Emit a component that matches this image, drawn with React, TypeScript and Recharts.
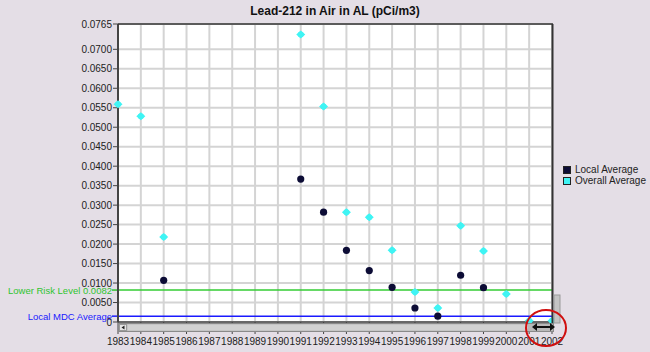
import React from "react";
import {
  CartesianGrid,
  ReferenceLine,
  Scatter,
  ScatterChart,
  XAxis,
  YAxis,
} from "recharts";

const years = [
  1983, 1984, 1985, 1986, 1987, 1988, 1989, 1990, 1991, 1992, 1993, 1994,
  1995, 1996, 1997, 1998, 1999, 2000, 2001, 2002,
];

const localYears = [1985, 1991, 1992, 1993, 1994, 1995, 1996, 1997, 1998, 1999];
const localValues = [
  0.0107, 0.0367, 0.0282, 0.0184, 0.0132, 0.0089, 0.0036, 0.0015, 0.012, 0.0088,
];

const overallYears = [
  1983, 1984, 1985, 1991, 1992, 1993, 1994, 1995, 1996, 1997, 1998, 1999, 2000,
  2001, 2002,
];
const overallValues = [
  0.0559, 0.0528, 0.0218, 0.0738, 0.0553, 0.0282, 0.0269, 0.0184, 0.0077,
  0.0036, 0.0247, 0.0182, 0.0072, 0.0003, 0.0003,
];

const yTicks = [
  0, 0.005, 0.01, 0.015, 0.02, 0.025, 0.03, 0.035, 0.04, 0.045, 0.05, 0.055,
  0.06, 0.065, 0.07, 0.0765,
];

const lowerRiskLevel = 0.0082;
const localMdcAverage = 0.0015;

const FONT = "'Liberation Sans', Arial, sans-serif";
const NAVY = "#0c0c35";
const CYAN = "#3ff4f4";

const localData = localYears.map((year, i) => ({ year, value: localValues[i] }));
const overallData = overallYears.map((year, i) => ({
  year,
  value: overallValues[i],
}));

const legendItems = [
  { name: "Local Average", color: NAVY },
  { name: "Overall Average", color: CYAN },
];

const NavyDot = (props: any) => {
  const { cx, cy } = props;
  if (cx == null || cy == null) return null;
  return <circle cx={cx} cy={cy} r={3.6} fill={NAVY} />;
};

const CyanDot = (props: any) => {
  const { cx, cy } = props;
  if (cx == null || cy == null) return null;
  return (
    <g fill={CYAN}>
      <circle cx={cx} cy={cy} r={3} />
      <path d={`M${cx - 4.5},${cy} L${cx},${cy - 4} L${cx + 4.5},${cy} L${cx},${cy + 4} Z`} />
    </g>
  );
};

// reference-line label drawn left of the y axis, with a short tick
const refLabel = (text: string, color: string) => (props: any) => {
  const { viewBox } = props;
  if (!viewBox) return null;
  const { x, y } = viewBox;
  return (
    <g>
      <line x1={x - 6} x2={x} y1={y} y2={y} stroke={color} strokeWidth={1.5} />
      <text
        x={x - 6}
        y={y}
        dy={3.5}
        textAnchor="end"
        fill={color}
        fontSize={9.5}
        fontFamily={FONT}
      >
        {text}
      </text>
    </g>
  );
};

export default function App() {
  return (
    <div
      style={{
        position: "absolute",
        left: 0,
        top: 0,
        width: 650,
        height: 352,
        background: "#e4dee6",
        fontFamily: FONT,
      }}
    >
      <div
        style={{
          position: "absolute",
          top: 4,
          left: 0,
          width: 670,
          textAlign: "center",
          fontWeight: "bold",
          fontSize: 12,
          color: "#111",
        }}
      >
        Lead-212 in Air in AL (pCi/m3)
      </div>
      <ScatterChart
        width={650}
        height={352}
        margin={{ top: 24, right: 98, bottom: 0, left: 0 }}
      >
        <CartesianGrid fill="#ffffff" stroke="#d4d4d4" strokeWidth={2} />
        <XAxis
          type="number"
          dataKey="year"
          domain={[1983, 2002]}
          ticks={years}
          interval={0}
          height={30}
          tickSize={12}
          tickMargin={4}
          axisLine={{ stroke: "#444", strokeWidth: 1.5 }}
          tickLine={{ stroke: "#444" }}
          tick={{ fontSize: 10, fill: "#222", fontFamily: FONT }}
        />
        <YAxis
          type="number"
          dataKey="value"
          domain={[0, 0.0765]}
          ticks={yTicks}
          interval={0}
          width={118}
          tickSize={5}
          tickMargin={1}
          axisLine={{ stroke: "#444", strokeWidth: 2 }}
          tickLine={{ stroke: "#444" }}
          tick={{ fontSize: 10, fill: "#222", fontFamily: FONT }}
          tickFormatter={(v: number) => (v === 0 ? "0" : v.toFixed(4))}
        />
        <ReferenceLine
          y={lowerRiskLevel}
          stroke="#33cc33"
          strokeWidth={1.5}
          label={refLabel("Lower Risk Level 0.0082", "#2fc42f")}
        />
        <ReferenceLine
          y={localMdcAverage}
          stroke="#1a1aff"
          strokeWidth={1.5}
          label={refLabel("Local MDC Average", "#1a1aff")}
        />
        <Scatter
          name="Local Average"
          data={localData}
          fill={NAVY}
          shape={NavyDot}
          isAnimationActive={false}
        />
        <Scatter
          name="Overall Average"
          data={overallData}
          fill={CYAN}
          shape={CyanDot}
          isAnimationActive={false}
        />
      </ScatterChart>
      <div
        style={{
          position: "absolute",
          left: 563,
          top: 164,
          fontSize: 10,
          color: "#222",
          lineHeight: "11px",
        }}
      >
        {legendItems.map((item) => (
          <div key={item.name} style={{ display: "flex", alignItems: "center" }}>
            <span
              style={{
                display: "inline-block",
                width: 6,
                height: 6,
                background: item.color,
                border: "1px solid #222",
                marginRight: 4,
              }}
            />
            {item.name}
          </div>
        ))}
      </div>
      <svg
        width={650}
        height={352}
        style={{ position: "absolute", left: 0, top: 0, pointerEvents: "none" }}
      >
        {/* plot frame */}
        <line x1={118} x2={553} y1={24} y2={24} stroke="#333" strokeWidth={1.5} />
        <line x1={552.5} x2={552.5} y1={24} y2={323} stroke="#333" strokeWidth={2} />
        {/* vertical scrollbar stub */}
        <rect x={554} y={295} width={6} height={28} fill="#c4c4c4" stroke="#9a9a9a" />
        {/* horizontal scrollbar */}
        <rect x={118.5} y={323.5} width={435} height={8} fill="#b8b8b8" stroke="#8a8a8a" />
        <rect x={119.5} y={324.5} width={7} height={6} fill="#e4e4e4" stroke="#9a9a9a" />
        <path d="M121.5,327.5 L124.5,325.5 L124.5,329.5 Z" fill="#222" />
        <rect x={127.5} y={324.5} width={400} height={6} fill="#d2d2d2" />
        {/* annotation */}
        <ellipse cx={546} cy={328} rx={20} ry={18} fill="none" stroke="#d01010" strokeWidth={2} />
        <line x1={535} x2={552} y1={327} y2={327} stroke="#111" strokeWidth={2} />
        <path d="M532,327 L537,323 L537,331 Z" fill="#111" />
        <path d="M555,327 L550,323 L550,331 Z" fill="#111" />
      </svg>
    </div>
  );
}
